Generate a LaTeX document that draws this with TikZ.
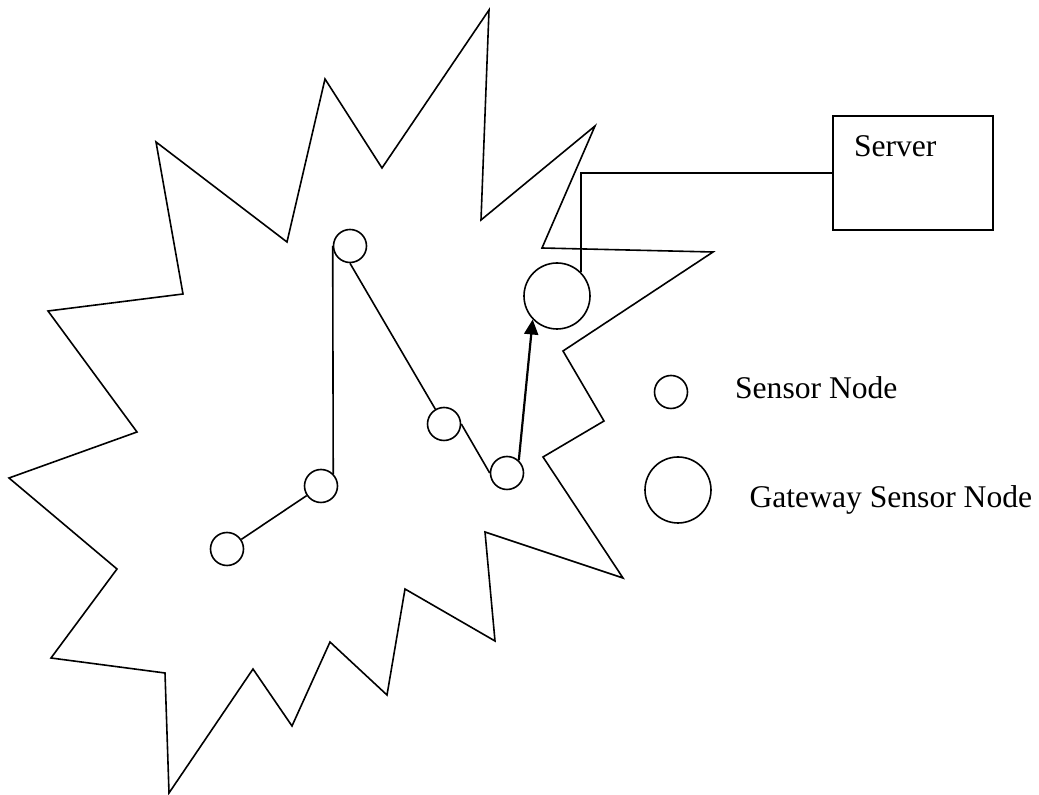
\documentclass[tikz,border=0pt]{standalone}
\usepackage{fontspec}
\setmainfont{Liberation Serif}
\usetikzlibrary{arrows.meta,positioning}

\begin{document}
\begin{tikzpicture}[x=0.5pt, y=-0.5pt, line width=0.8pt,
    sensor/.style={circle, draw, inner sep=0pt, minimum size=16.5pt},
    gateway/.style={circle, draw, inner sep=0pt, minimum size=33pt},
    serverbox/.style={rectangle, draw, minimum width=80pt, minimum height=57pt},
    lbl/.style={font=\fontsize{15.8}{19}\selectfont, inner sep=0pt}]
    \useasboundingbox (0,0) rectangle (1039,795);

    \draw (489,10) -- (481,220) -- (595,126) -- (542,248) -- (713,252) -- (563,351)
        -- (604,421) -- (543,457) -- (623,578) -- (485,532) -- (495,641) -- (405,589)
        -- (387,695) -- (330,642) -- (292,726) -- (253,669) -- (169,793) -- (165,673)
        -- (51,658) -- (117,569) -- (9,478) -- (137,432) -- (48,311) -- (183,294)
        -- (156,142) -- (287,242) -- (325,79) -- (382,168) -- cycle;

    \node[sensor] (a) at (350,246) {};
    \node[sensor] (b) at (321,486) {};
    \node[sensor] (c) at (227,549) {};
    \node[sensor] (d) at (444,424) {};
    \node[sensor] (e) at (507,473) {};
    \node[gateway] (gw) at (557,296) {};
    \node[serverbox] (srv) at (913,173) {};
    \node[lbl, anchor=base west] (srvtext) at ([xshift=10.5pt, yshift=-20.5pt]srv.north west) {Server};

    \draw (c) -- (b);
    \draw (b.45) -- (a.west);
    \draw (a.south) -- (d);
    \draw (d.east) -- (e.west);
    \draw[line width=1.1pt, -{Triangle[length=7.5pt, width=7pt]}] (e.47) -- (gw.224);
    \draw (gw.45) |- (srv.west);

    \node[sensor] (lsensor) at (671,392) {};
    \node[gateway] (lgateway) at (678,490) {};
    \node[lbl, right=23pt of lsensor, anchor=base west, yshift=-3.5pt] (lsensortext) {Sensor Node};
    \node[lbl, right=18.5pt of lgateway, anchor=base west, yshift=-9pt] (lgatewaytext) {Gateway Sensor Node};
\end{tikzpicture}
\end{document}
